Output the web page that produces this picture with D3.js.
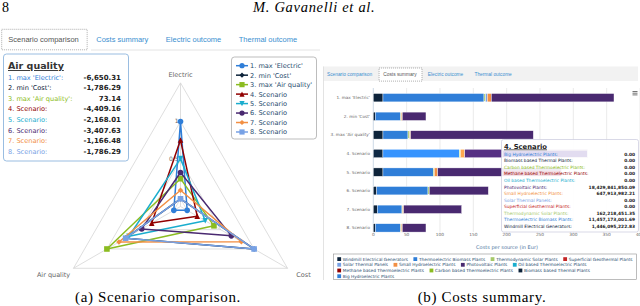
<!DOCTYPE html>
<html>
<head>
<meta charset="utf-8">
<script src="https://cdnjs.cloudflare.com/ajax/libs/d3/7.8.5/d3.min.js"></script>
<style>
  body { margin: 0; background: #fff; }
  svg { display: block; }
  text { font-family: "DejaVu Sans", sans-serif; }
</style>
</head>
<body>
<svg id="page" width="640" height="306"></svg>
<script>
// ---- data ----
const scenarios = ["1. max 'Electric'", "2. min 'Cost'", "3. max 'Air quality'", "4. Scenario",
                   "5. Scenario", "6. Scenario", "7. Scenario", "8. Scenario"];
const palette = ["#2f7ed8", "#0d233a", "#8bbc21", "#910000", "#1aadce", "#492970", "#f28f43", "#77a1e5", "#c42525", "#a6c96a"];
const markers = ["circle", "diamond", "square", "triangle", "triangle-down", "circle", "diamond", "square"];

// radar (normalised objectives)
const radarAxes = ["Electric", "Cost", "Air quality"];
const electricNorm = [1, 0, 0.26, 0.76, 0.52, 0.34, 0.11, 0];
const costNorm     = [0, 1, 0.40, 0.15, 0.27, 0.66, 0.81, 1];
const airNorm      = [0, 0.72, 1, 0.33, 0.67, 0.48, 0.82, 0.72];
const radarTicks = [0, 0.5, 1, 1.5];
const radarTickLabels = ["0.5", "1"];
const airQuality = [-6650.31, -1786.29, 73.14, -4409.16, -2168.01, -3407.63, -1166.48, -1786.29];

const tabs = ["Scenario comparison", "Costs summary", "Electric outcome", "Thermal outcome"];

// costs per source (hundreds of millions of Eur), one value per scenario
const sources = ["Big Hydroelectric Plants", "Biomass based Thermal Plants", "Carbon based Thermoelectric Plants",
  "Methane based Thermoelectric Plants", "Oil based Thermoelectric Plants", "Photovoltaic Plants",
  "Small Hydroelectric Plants", "Solar Thermal Panels", "Superficial Geothermal Plants",
  "Thermodynamic Solar Plants", "Thermoelectric Biomass Plants", "Windmill Electrical Generators"];
const bigHydro       = [0, 0, 0, 0, 0, 0, 0, 0];
const biomassThermal = [0, 0, 0, 0, 0, 0, 0, 0];
const carbonThermo   = [0, 0, 0, 0, 0, 0, 0, 0];
const methaneThermo  = [0, 0, 0, 0, 0, 0, 0, 0];
const oilThermo      = [0, 0, 0, 0, 0, 0, 0, 0];
const photovoltaic   = [184, 35.5, 184, 184.2984185009, 186, 88.5, 87, 35.5];
const smallHydro     = [6, 1.5, 1.5, 6.4791398221, 5, 0, 1.5, 1.5];
const solarPanels    = [2.5, 0, 0, 0, 0, 0, 0, 0];
const geothermal     = [0, 0, 0, 0, 0, 0, 0, 0];
const thermoSolar    = [2.5, 1, 2.5, 1.6221845135, 1.5, 2, 1, 1];
const thermoBiomass  = [151.5, 38, 37.5, 114.5717300169, 75.5, 77, 37, 38];
const windmill       = [14.5, 3, 14.5, 14.4609522283, 14.5, 5, 6, 3];
const costTicks = [0, 50, 100, 150, 200, 250, 300, 350, 400];
const hovered = 3;

const costs = [bigHydro, biomassThermal, carbonThermo, methaneThermo, oilThermo, photovoltaic,
  smallHydro, solarPanels, geothermal, thermoSolar, thermoBiomass, windmill];
const sourceColor = (i) => palette[i % palette.length];

const fmt = d3.formatLocale({decimal: ".", thousands: ",", grouping: [3], currency: ["", ""], minus: "-"}).format(",.2f");

const svg = d3.select("#page");

// ---- page header and captions ----
svg.append("text").attr("x", 2).attr("y", 12).style("font-family", "Liberation Serif")
  .style("font-size", "14px").text("8");
svg.append("text").attr("x", 253).attr("y", 12).style("font-family", "Liberation Serif")
  .style("font-size", "14.5px").style("font-style", "italic").style("letter-spacing", "0.7px")
  .text("M. Gavanelli et al.");
svg.append("text").attr("x", 158).attr("y", 302).attr("text-anchor", "middle")
  .style("font-family", "Liberation Serif").style("font-size", "15px").style("letter-spacing", "0.65px")
  .text("(a) Scenario comparison.");
svg.append("text").attr("x", 482).attr("y", 302).attr("text-anchor", "middle")
  .style("font-family", "Liberation Serif").style("font-size", "15px").style("letter-spacing", "0.65px")
  .text("(b) Costs summary.");

function markerPath(type, r) {
  if (type == "circle") return d3.symbol(d3.symbolCircle, Math.PI * r * r)();
  if (type == "square") return `M${-r},${-r}h${2*r}v${2*r}h${-2*r}Z`;
  if (type == "diamond") return `M0,${-r}L${r},0L0,${r}L${-r},0Z`;
  if (type == "triangle") return `M0,${-r}L${r},${r}L${-r},${r}Z`;
  return `M${-r},${-r}L${r},${-r}L0,${r}Z`;
}

function drawTabs(g, x0, y0, k, active) {
  var x = x0;
  tabs.forEach(function(t, i) {
    var txt = g.append("text")
      .attr("x", x + 6.6 * k).attr("y", y0 + 13 * k)
      .style("font-family", "Liberation Sans")
      .style("font-size", (7.5 * k) + "px")
      .attr("fill", i == active ? "#555" : "#3a8fd0")
      .text(t);
    var w = txt.node().getComputedTextLength();
    if (i == active) {
      g.insert("rect", "text")
        .attr("x", x).attr("y", y0).attr("width", w + 15 * k).attr("height", 20.5 * k)
        .attr("fill", "#fff").attr("stroke", "#777").attr("stroke-width", 0.6)
        .attr("stroke-dasharray", "1,1");
    }
    x += w + 17.5 * k;
  });
}

// ================= (a) scenario comparison =================
const left = svg.append("g");
drawTabs(left, 1.7, 29.3, 1, 0);
left.append("line").attr("x1", 91).attr("x2", 320).attr("y1", 50).attr("y2", 50)
  .attr("stroke", "#e4e4e4");

const cx = 180.5, cy = 206.5, R = 123.6;
const angles = [0, 2 * Math.PI / 3, 4 * Math.PI / 3];
const rScale = d3.scaleLinear().domain([-0.1, 1.5]).range([0, R]);
const radial = d3.lineRadial().curve(d3.curveLinearClosed);
const radar = left.append("g").attr("transform", `translate(${cx},${cy})`);

radar.selectAll(".grid").data(radarTicks).enter().append("path")
  .attr("d", v => radial(angles.map(a => [a, rScale(v)])))
  .attr("fill", "none").attr("stroke", "#d6d6d6").attr("stroke-width", 0.8);
radar.selectAll(".spoke").data(angles).enter().append("line")
  .attr("x1", 0).attr("y1", 0)
  .attr("x2", a => rScale(1.5) * Math.sin(a)).attr("y2", a => -rScale(1.5) * Math.cos(a))
  .attr("stroke", "#d6d6d6").attr("stroke-width", 0.8);
radar.selectAll(".tick").data(radarTickLabels).enter().append("text")
  .attr("x", -2).attr("y", d => -rScale(+d) + 1)
  .attr("text-anchor", "end").attr("fill", "#666").style("font-size", "6px").text(d => d);

const axLabelPos = [[0, -130], [123, 70], [-127, 70]];
radar.selectAll(".axlab").data(radarAxes).enter().append("text")
  .attr("x", (d, i) => axLabelPos[i][0]).attr("y", (d, i) => axLabelPos[i][1])
  .attr("text-anchor", "middle").attr("fill", "#666").style("font-size", "6.5px").text(d => d);

const series = scenarios.map((s, i) => ({
  name: s, color: palette[i], marker: markers[i],
  values: [electricNorm[i], costNorm[i], airNorm[i]]
}));

const sg = radar.selectAll(".series").data(series).enter().append("g");
sg.append("path")
  .attr("d", d => radial(d.values.map((v, j) => [angles[j], rScale(v)])))
  .attr("fill", "none").attr("stroke", d => d.color).attr("stroke-width", 1.5)
  .attr("stroke-linejoin", "round");
sg.selectAll("path.m").data(d => d.values.map((v, j) => ({v: v, a: angles[j], d: d})))
  .enter().append("path").attr("class", "m")
  .attr("transform", p => `translate(${rScale(p.v) * Math.sin(p.a)},${-rScale(p.v) * Math.cos(p.a)})`)
  .attr("d", p => markerPath(p.d.marker, 2.8))
  .attr("fill", p => p.d.color);

// legend
const leg = left.append("g");
leg.append("rect").attr("x", 231.5).attr("y", 57).attr("width", 85).attr("height", 82)
  .attr("rx", 3).attr("fill", "#fff").attr("stroke", "#a0a0a0").attr("stroke-width", 0.7);
const li = leg.selectAll(".li").data(series).enter().append("g")
  .attr("transform", (d, i) => `translate(236,${65.7 + i * 9.47})`);
li.append("line").attr("x1", 0).attr("x2", 12).attr("stroke", d => d.color).attr("stroke-width", 1.5);
li.append("path").attr("transform", "translate(6,0)").attr("d", d => markerPath(d.marker, 2.6))
  .attr("fill", d => d.color);
li.append("text").attr("x", 14).attr("y", 2.4).attr("fill", "#274b6d")
  .style("font-size", "6.6px").text(d => d.name);

// tooltip (Air quality)
const tip = left.append("g");
tip.append("rect").attr("x", 3.5).attr("y", 54).attr("width", 125).attr("height", 107)
  .attr("rx", 3).attr("fill", "#fff").attr("fill-opacity", 0.9)
  .attr("stroke", "#8fb6de").attr("stroke-width", 0.9);
tip.append("text").attr("x", 8).attr("y", 69).attr("fill", "#333")
  .style("font-size", "9.5px").style("font-weight", "bold").style("text-decoration", "underline")
  .text(radarAxes[2]);
const trow = tip.selectAll(".tr").data(series).enter().append("g")
  .attr("transform", (d, i) => `translate(0,${79.5 + i * 10.6})`);
trow.append("text").attr("x", 8).attr("fill", d => d.color).style("font-size", "6.6px")
  .text(d => d.name + ":");
trow.append("text").attr("x", 121).attr("text-anchor", "end").attr("fill", "#222")
  .style("font-size", "7px").style("font-weight", "bold")
  .text((d, i) => fmt(airQuality[i]));

// ================= (b) costs summary =================
const right = svg.append("g");
right.append("rect").attr("x", 323).attr("y", 66.5).attr("width", 315).attr("height", 14.5).attr("fill", "#f2f2f2");
right.append("line").attr("x1", 323.5).attr("x2", 323.5).attr("y1", 66.5).attr("y2", 280)
  .attr("stroke", "#dcdcdc").attr("stroke-width", 0.8);
drawTabs(right, 322.8, 68, 0.64, 1);

const x = d3.scaleLinear().domain([0, 400]).range([373.3, 640]);
const y = d3.scaleBand().domain(scenarios).range([88.4, 237.2]).paddingInner(0.55).paddingOuter(0.275);
const plotTop = 88, plotBottom = 232;

right.selectAll(".vgrid").data(costTicks.slice(1)).enter().append("line")
  .attr("x1", d => x(d)).attr("x2", d => x(d)).attr("y1", plotTop).attr("y2", plotBottom)
  .attr("stroke", "#e2e2e2").attr("stroke-width", 0.7);
right.append("line").attr("x1", x(0)).attr("x2", x(0)).attr("y1", plotTop).attr("y2", plotBottom)
  .attr("stroke", "#c0d0e0").attr("stroke-width", 0.8);
right.selectAll(".xt").data(costTicks).enter().append("text")
  .attr("x", d => x(d)).attr("y", 236).attr("text-anchor", "middle")
  .attr("fill", "#666").style("font-size", "4.3px").text(d => d);
right.append("text").attr("x", 507).attr("y", 248.5).attr("text-anchor", "middle")
  .attr("fill", "#4d759e").style("font-size", "5px").text("Costs per source (in Eur)");
right.selectAll(".yl").data(scenarios).enter().append("text")
  .attr("x", 370).attr("y", d => y(d) + y.bandwidth() / 2 + 1.5).attr("text-anchor", "end")
  .attr("fill", "#666").style("font-size", "4.2px").text(d => d);

// stacked bars: last source sits at the axis
const rows = scenarios.map((s, i) => {
  var o = {scenario: s};
  sources.forEach((src, j) => { o[src] = costs[j][i]; });
  return o;
});
const keys = sources.slice().reverse();
const stacked = d3.stack().keys(keys)(rows);
right.selectAll(".layer").data(stacked).enter().append("g")
  .each(function(layer) {
    var c = sourceColor(sources.indexOf(layer.key));
    d3.select(this).selectAll("rect").data(layer).enter().append("rect")
      .attr("x", d => x(d[0])).attr("width", d => Math.max(0, x(d[1]) - x(d[0])))
      .attr("y", (d, i) => y(scenarios[i])).attr("height", y.bandwidth())
      .attr("fill", (d, i) => i == hovered ? d3.color(c).brighter(0.45) : c)
      .attr("stroke", "#fff").attr("stroke-width", 0.4);
  });

// menu icon
right.selectAll(".menu").data([0, 1, 2]).enter().append("line")
  .attr("x1", 632.5).attr("x2", 637.5).attr("y1", d => 91.5 + d * 1.7).attr("y2", d => 91.5 + d * 1.7)
  .attr("stroke", "#666").attr("stroke-width", 0.9);

// legend
const bl = right.append("g");
bl.append("rect").attr("x", 333.5).attr("y", 254).attr("width", 303).attr("height", 25.5)
  .attr("fill", "none").attr("stroke", "#909090").attr("stroke-width", 0.6);
var lx = 337.3, ly = 259, rowH = 5.7;
keys.forEach(function(k) {
  var g = bl.append("g");
  var t = g.append("text").attr("x", 5.5).attr("y", 1.5).attr("fill", "#274b6d")
    .style("font-size", "4.3px").text(k);
  var w = 5.5 + t.node().getComputedTextLength();
  if (lx + w > 634) { lx = 337.3; ly += rowH; }
  g.attr("transform", `translate(${lx},${ly})`);
  g.append("rect").attr("x", 0).attr("y", -1.8).attr("width", 3.8).attr("height", 3.8)
    .attr("fill", sourceColor(sources.indexOf(k)));
  lx += w + 5.5;
});

// tooltip for hovered scenario
const bt = right.append("g");
bt.append("rect").attr("x", 501.5).attr("y", 139.5).attr("width", 137).attr("height", 92.5)
  .attr("rx", 2).attr("fill", "#fff").attr("fill-opacity", 0.92)
  .attr("stroke", "#c9c9dc").attr("stroke-width", 0.7);
bt.append("rect").attr("x", 503).attr("y", 151).attr("width", 84).attr("height", 6).attr("fill", "#e2dcf0");
bt.append("rect").attr("x", 503).attr("y", 170.8).attr("width", 58).attr("height", 5).attr("fill", "#f4dde4");
bt.append("text").attr("x", 504).attr("y", 148.5).attr("fill", "#222")
  .style("font-size", "6.8px").style("font-weight", "bold").style("text-decoration", "underline")
  .text(scenarios[hovered]);
const btr = bt.selectAll(".btr").data(sources).enter().append("g")
  .attr("transform", (d, i) => `translate(0,${155.7 + i * 6.45 + (i > 4 ? 1 : 0)})`);
btr.append("text").attr("x", 504).attr("fill", (d, i) => sourceColor(i))
  .style("font-size", "4.4px").text(d => d + ":");
btr.append("text").attr("x", 635).attr("text-anchor", "end").attr("fill", "#222")
  .style("font-size", "4.4px").style("font-weight", "bold")
  .text((d, i) => fmt(costs[i][hovered] * 1e8));
</script>
</body>
</html>
